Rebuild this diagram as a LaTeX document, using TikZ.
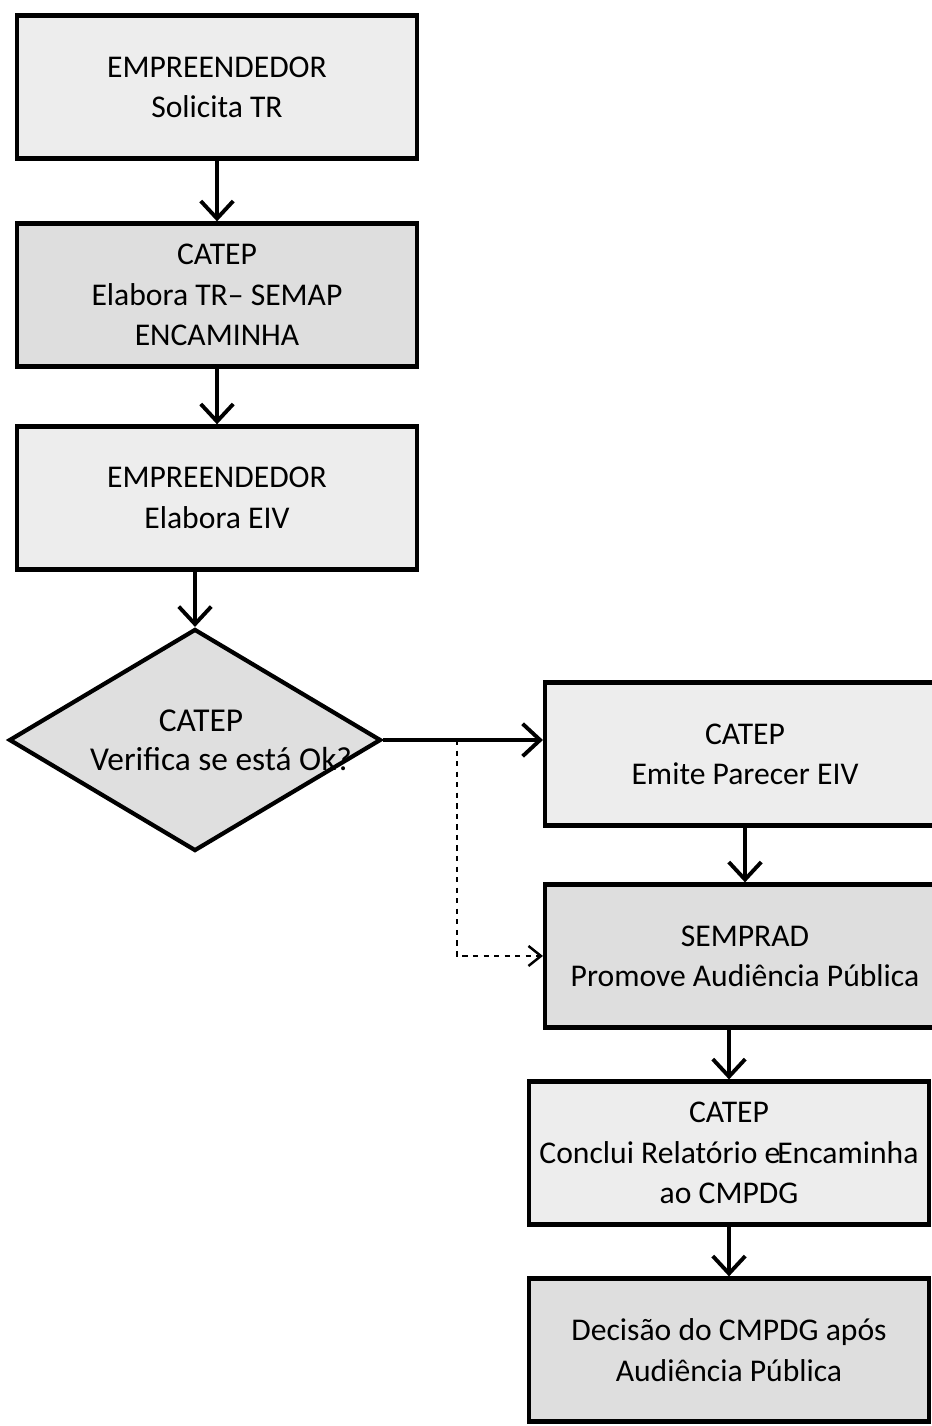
\documentclass[tikz,border=0pt]{standalone}
\usepackage{fontspec}
\setmainfont{Carlito}
\usetikzlibrary{shapes.geometric}
\usetikzlibrary{positioning}
\usetikzlibrary{arrows.meta}
\tikzset{box/.style={rectangle,draw,line width=2.4pt,minimum width=8cm,minimum height=2.86cm,align=center,font=\fontsize{18}{23}\selectfont,text depth=0pt},
decision/.style={diamond,draw,line width=2.4pt,minimum width=7.44cm,minimum height=4.44cm,inner sep=0pt,fill=gray!25},
dectext/.style={align=center,font=\fontsize{19}{22}\selectfont,xshift=0.12cm},
arr/.style={-{Straight Barb[length=3.5mm,width=6.5mm]},line width=2.2pt},
light/.style={fill=gray!14},dark/.style={fill=gray!26}}

\begin{document}
\begin{tikzpicture}[x=0.02cm,y=-0.02cm]
\useasboundingbox (0,0) rectangle (931,1426);
% left column
\node (b1) at (217,87) [box,light] {EMPREENDEDOR\\Solicita TR};
\node (b2) [below of=b1,node distance=4.16cm,box,dark] {CATEP\\Elabora TR– SEMAP\\ENCAMINHA};
\node (b3) [below of=b2,node distance=4.06cm,box,light] {EMPREENDEDOR\\Elabora EIV};
\node (dec) at (195,740) [decision,label={[dectext]center:CATEP\\\hspace*{1.2em}Verifica se está Ok?}] {};
% right column
\node (b4) at (745,754) [box,light] {CATEP\\Emite Parecer EIV};
\node (b5) [below of=b4,node distance=4.04cm,box,dark] {SEMPRAD\\Promove Audiência Pública};
\node (b6) at (729,1153) [box,light,inner xsep=0pt] {CATEP\\Conclui Relatório e\kern-0.1em Encaminha\\ao CMPDG};
\node (b7) [below of=b6,node distance=3.94cm,box,dark] {Decisão do CMPDG após\\Audiência Pública};

\coordinate (xs) at (457,0);
\coordinate (split) at (dec.east -| xs);

\draw[arr] (b1) -- (b2);
\draw[arr] (b2) -- (b3);
\draw[arr] (b3.south -| dec.north) -- (dec.north);
\draw[arr] (dec.east) -- (dec.east -| b4.west);
\draw[-{Straight Barb[length=2.5mm,width=4mm]},dashed,line width=1.4pt] (split) |- (b5.west);
\draw[arr] (b4) -- (b5);
\draw[arr] (b5.south -| b6.north) -- (b6.north);
\draw[arr] (b6) -- (b7);
\end{tikzpicture}
\end{document}
